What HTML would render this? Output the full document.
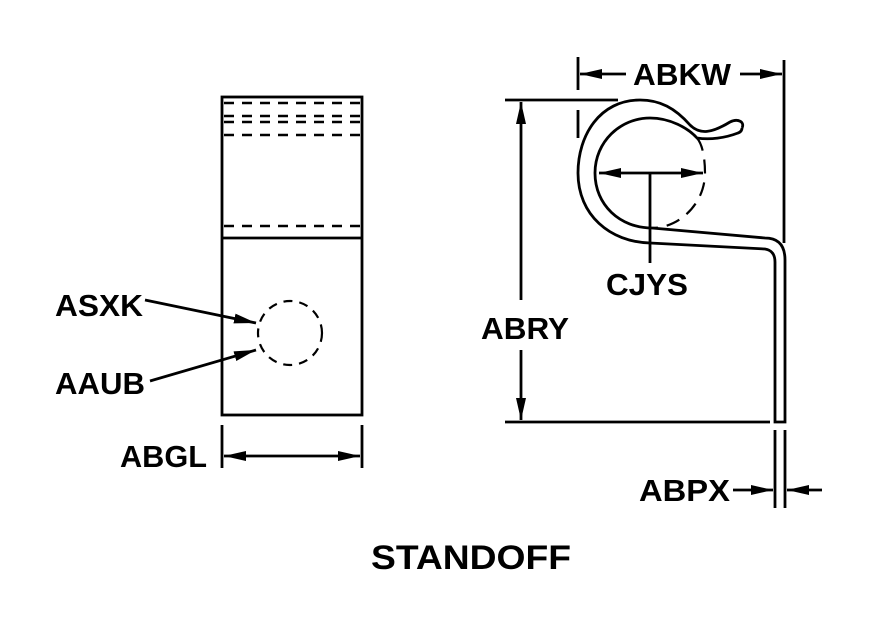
<!DOCTYPE html>
<html><head><style>
body{margin:0;background:#fff}
svg text{font-family:"Liberation Sans",Arial,sans-serif;font-weight:bold;fill:#000}
</style></head><body>
<svg width="870" height="630" viewBox="0 0 870 630" xmlns="http://www.w3.org/2000/svg">
<defs>
<marker id="a" viewBox="0 0 22 10" refX="22" refY="5" markerWidth="22" markerHeight="10" markerUnits="userSpaceOnUse" orient="auto"><path d="M0,0 L22,5 L0,10 z"/></marker>
</defs>
<g stroke="#000" fill="none" stroke-width="2.8">
<rect x="222" y="97" width="140" height="318"/>
<line x1="222" y1="238" x2="362" y2="238"/>
<g stroke-dasharray="10,8" stroke-width="2.4">
<line x1="224" y1="103" x2="362" y2="103"/>
<line x1="224" y1="116" x2="362" y2="116"/>
<line x1="224" y1="122" x2="362" y2="122"/>
<line x1="224" y1="135" x2="362" y2="135"/>
<line x1="224" y1="226" x2="362" y2="226"/>
</g>
<circle cx="290" cy="333" r="32" stroke-dasharray="9,7" stroke-width="2.2"/>
<line x1="145" y1="300" x2="256" y2="323" marker-end="url(#a)"/>
<line x1="150" y1="381" x2="256" y2="350" marker-end="url(#a)"/>
<line x1="222" y1="425" x2="222" y2="468"/>
<line x1="362" y1="425" x2="362" y2="468"/>
<line x1="290" y1="456" x2="224" y2="456" marker-end="url(#a)"/>
<line x1="290" y1="456" x2="360" y2="456" marker-end="url(#a)"/>
<path d="M742,128 C745,122 738,118 730,122 C712,133 700,135 690,125 C675,108 660,100 640,100 C600,100 578,135 578,173 C578,215 610,242 650,243 L765,249 C772,250 775,255 775,262 L775,422 L785,422 L785,260 C785,245 778,238 765,238 L652,228"/>
<path d="M652,228 C620,228 595,205 595,173 C595,142 620,118 650,118 C670,118 688,128 697,138 C710,140 725,138 738,133 C741,132 742,130 742,128"/>
<path d="M697,138 C703,145 705,160 705,173 C705,203 680,228 652,228" stroke-dasharray="14,9" stroke-width="2.2"/>
<line x1="578" y1="57" x2="578" y2="90"/>
<line x1="578" y1="110" x2="578" y2="138"/>
<line x1="784" y1="60" x2="784" y2="243"/>
<line x1="626" y1="74" x2="580" y2="74" marker-end="url(#a)"/>
<line x1="740" y1="74" x2="782" y2="74" marker-end="url(#a)"/>
<line x1="505" y1="100" x2="618" y2="100"/>
<line x1="505" y1="422" x2="770" y2="422"/>
<line x1="521" y1="300" x2="521" y2="102" marker-end="url(#a)"/>
<line x1="521" y1="350" x2="521" y2="420" marker-end="url(#a)"/>
<line x1="650" y1="173" x2="599" y2="173" marker-end="url(#a)"/>
<line x1="650" y1="173" x2="703" y2="173" marker-end="url(#a)"/>
<line x1="650" y1="173" x2="650" y2="263"/>
<line x1="775" y1="430" x2="775" y2="508"/>
<line x1="785" y1="430" x2="785" y2="508"/>
<line x1="733" y1="490" x2="773" y2="490" marker-end="url(#a)"/>
<line x1="822" y1="490" x2="787" y2="490" marker-end="url(#a)"/>
</g>
<g font-size="31">
<text x="55" y="316" textLength="88" lengthAdjust="spacingAndGlyphs">ASXK</text>
<text x="55" y="394" textLength="90" lengthAdjust="spacingAndGlyphs">AAUB</text>
<text x="120" y="467" textLength="87" lengthAdjust="spacingAndGlyphs">ABGL</text>
<text x="633" y="85" textLength="98" lengthAdjust="spacingAndGlyphs">ABKW</text>
<text x="481" y="339" textLength="88" lengthAdjust="spacingAndGlyphs">ABRY</text>
<text x="606" y="295" textLength="82" lengthAdjust="spacingAndGlyphs">CJYS</text>
<text x="639" y="501" textLength="91" lengthAdjust="spacingAndGlyphs">ABPX</text>
<text x="371" y="569" font-size="34" textLength="200" lengthAdjust="spacingAndGlyphs">STANDOFF</text>
</g>
</svg>
</body></html>
